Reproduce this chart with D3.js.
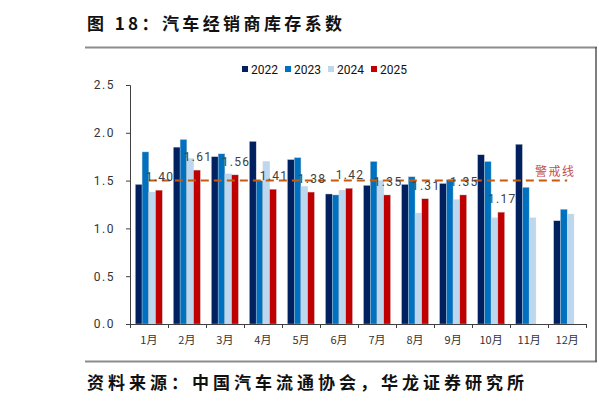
<!DOCTYPE html>
<html>
<head>
<meta charset="utf-8">
<script src="https://cdn.jsdelivr.net/npm/d3@7"></script>
<style>
  body { margin: 0; background: #fff; }
  svg { display: block; }
</style>
</head>
<body>
<div id="main"></div>
<script>
// chart data
const months = ["1月","2月","3月","4月","5月","6月","7月","8月","9月","10月","11月","12月"];
const years = ["2022","2023","2024","2025"];
const v2022 = [1.46, 1.85, 1.75, 1.91, 1.72, 1.36, 1.45, 1.46, 1.47, 1.77, 1.88, 1.08];
const v2023 = [1.80, 1.93, 1.78, 1.50, 1.74, 1.35, 1.70, 1.54, 1.51, 1.70, 1.43, 1.20];
const v2024 = [1.38, 1.73, 1.57, 1.70, 1.44, 1.40, 1.50, 1.16, 1.30, 1.11, 1.11, 1.15];
const v2025 = [1.40, 1.61, 1.56, 1.41, 1.38, 1.42, 1.35, 1.31, 1.35, 1.17, null, null];
const yTicks = [0, 0.5, 1.0, 1.5, 2.0, 2.5];
const warnLevel = 1.5;

const colors = {"2022": "#002060", "2023": "#0070C0", "2024": "#BDD7EE", "2025": "#C00000"};
const seriesValues = {"2022": v2022, "2023": v2023, "2024": v2024, "2025": v2025};

const W = 599, H = 407;
const svg = d3.select("#main").append("svg")
    .attr("width", W)
    .attr("height", H);

const cjk = "'Noto Sans CJK SC', sans-serif";
const num = "Roboto, 'Liberation Sans', Arial, sans-serif";

// title
svg.append("text")
    .attr("x", 87).attr("y", 30)
    .style("font-family", cjk)
    .style("font-size", "17px")
    .style("font-weight", "bold")
    .style("letter-spacing", "3.4px")
    .attr("fill", "#111")
    .text("图 18：汽车经销商库存系数");

// frame
svg.append("line").attr("x1", 85).attr("x2", 597).attr("y1", 47.5).attr("y2", 47.5)
    .attr("stroke", "#8c8c8c").attr("stroke-width", 2);
svg.append("line").attr("x1", 85).attr("x2", 597).attr("y1", 361.5).attr("y2", 361.5)
    .attr("stroke", "#8c8c8c").attr("stroke-width", 2);
svg.append("line").attr("x1", 596).attr("x2", 596).attr("y1", 47).attr("y2", 362)
    .attr("stroke", "#555").attr("stroke-width", 1.5);

// footer
svg.append("text")
    .attr("x", 87).attr("y", 389)
    .style("font-family", cjk)
    .style("font-size", "17px")
    .style("font-weight", "bold")
    .style("letter-spacing", "4px")
    .attr("fill", "#111")
    .text("资料来源：中国汽车流通协会，华龙证券研究所");

// scales
const plotLeft = 130, plotRight = 586, plotTop = 85, plotBottom = 324;

const x = d3.scaleBand().domain(months).range([plotLeft, plotRight])
    .paddingInner(0.29).paddingOuter(0.14);
const xSub = d3.scaleBand().domain(years).range([0, x.bandwidth()]);
const xEdge = d3.scaleLinear().domain([0, 12]).range([plotLeft, plotRight]);
const y = d3.scaleLinear().domain([0, 2.5]).range([plotBottom, plotTop]);

// bars
years.forEach(yr => {
    const rows = months.map((m, i) => ({m: m, v: seriesValues[yr][i]})).filter(d => d.v != null);
    svg.append("g").selectAll("rect")
        .data(rows)
        .enter().append("rect")
        .attr("x", d => x(d.m) + xSub(yr))
        .attr("width", xSub.bandwidth())
        .attr("y", d => y(d.v))
        .attr("height", d => y(0) - y(d.v))
        .attr("fill", colors[yr])
        .attr("stroke", "#d0d0d0")
        .attr("stroke-width", 0.4);
});

// y axis
const yAxis = svg.append("g")
    .attr("transform", "translate(" + plotLeft + ",0)")
    .call(d3.axisLeft(y).tickValues(yTicks).tickSize(4).tickPadding(11).tickFormat(d3.format(".1f")));
yAxis.select(".domain").attr("stroke", "#404040");
yAxis.selectAll(".tick line").attr("stroke", "#404040");
yAxis.selectAll("text")
    .style("font-family", num).style("font-size", "12px")
    .style("letter-spacing", "1.5px")
    .attr("fill", "#333");

// x axis: boundary ticks
const xAxisEdge = svg.append("g")
    .attr("transform", "translate(0," + plotBottom + ")")
    .call(d3.axisBottom(xEdge).ticks(12).tickSize(4).tickFormat(""));
xAxisEdge.select(".domain").attr("stroke", "#404040");
xAxisEdge.selectAll(".tick line").attr("stroke", "#404040");

// x axis: month labels
const xAxis = svg.append("g")
    .attr("transform", "translate(0," + plotBottom + ")")
    .call(d3.axisBottom(x).tickSize(0).tickPadding(12));
xAxis.select(".domain").remove();
xAxis.selectAll("text")
    .style("font-family", cjk).style("font-size", "11px")
    .attr("fill", "#333");

// warning line
const xFirst = x(months[0]) + x.bandwidth() / 2;
const xLast = x(months[months.length - 1]) + x.bandwidth() / 2;
svg.append("line")
    .attr("x1", xFirst).attr("x2", xLast)
    .attr("y1", y(warnLevel)).attr("y2", y(warnLevel))
    .attr("stroke", "#C55A11")
    .attr("stroke-width", 2)
    .attr("stroke-dasharray", "8,5");

svg.append("text")
    .attr("x", 535).attr("y", 176)
    .style("font-family", cjk).style("font-size", "12px")
    .style("letter-spacing", "1.5px")
    .attr("fill", "#C0504D")
    .text("警戒线");

// 2025 value labels
const labels = months.map((m, i) => ({m: m, v: v2025[i]})).filter(d => d.v != null);
svg.append("g").selectAll("text")
    .data(labels)
    .enter().append("text")
    .attr("x", d => x(d.m) + xSub("2025") + xSub.bandwidth() / 2 + 1)
    .attr("y", d => y(d.v) - 9)
    .attr("text-anchor", "middle")
    .style("font-family", num).style("font-size", "12px")
    .style("letter-spacing", "1.3px")
    .attr("fill", "#404040")
    .text(d => d3.format(".2f")(d.v));

// legend
const legend = svg.append("g").selectAll("g")
    .data(years)
    .enter().append("g")
    .attr("transform", (d, i) => "translate(" + (242 + i * 43) + ",66)");
legend.append("rect")
    .attr("width", 6).attr("height", 6)
    .attr("fill", d => colors[d]);
legend.append("text")
    .attr("x", 9).attr("y", 7.5)
    .style("font-family", num).style("font-size", "12px")
    .attr("fill", "#111")
    .text(d => d);
</script>
</body>
</html>
